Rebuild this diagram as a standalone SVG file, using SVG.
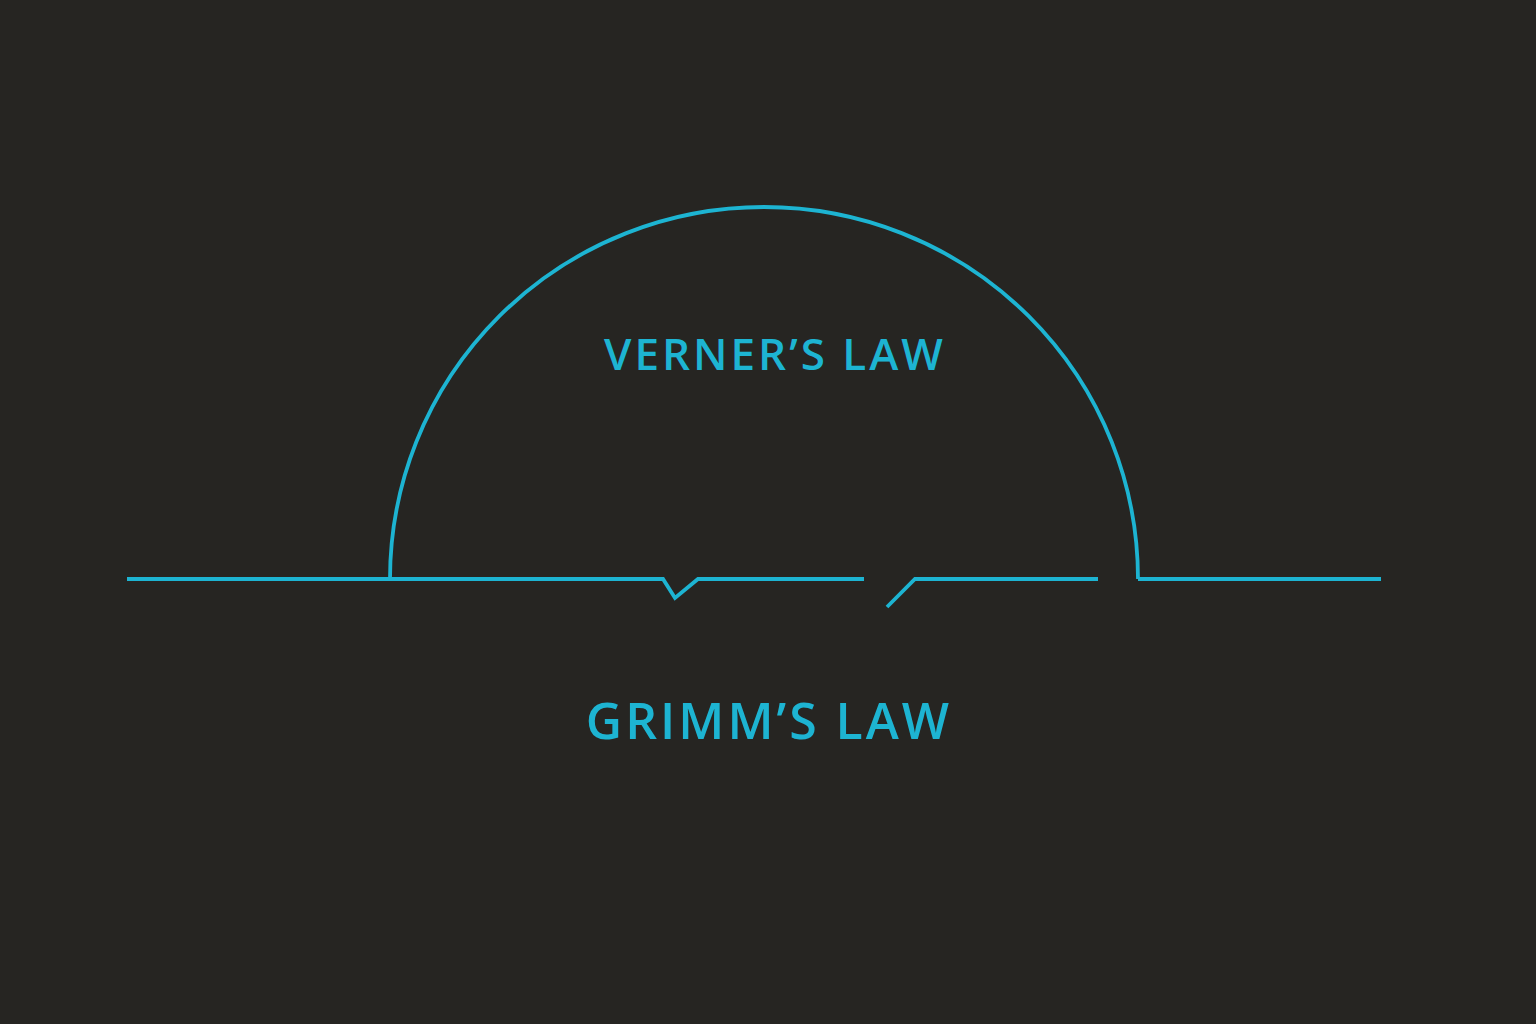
<svg xmlns="http://www.w3.org/2000/svg" width="1536" height="1024" viewBox="0 0 1536 1024">
<style>
.ln{fill:none;stroke:#1db4d2;stroke-width:3.8;stroke-linejoin:miter}
.lbl{font-family:"Open Sans","Liberation Sans",sans-serif;font-weight:600;fill:#1db4d2;text-anchor:middle}
</style>
<rect width="1536" height="1024" fill="#262522"/>
<g id="connectors">
<path class="ln" d="M127,579 L663,579 L675,598 L698,579 L864,579"/>
<path class="ln" d="M887,607 L915,579 L1098,579"/>
<path class="ln" d="M1138,579 L1381,579"/>
</g>
<g id="verner">
<path class="ln" d="M390,579 A374,372 0 0 1 1138,579"/>
<text class="lbl" x="775" y="370" font-size="44" letter-spacing="3">VERNER’S LAW</text>
</g>
<g id="grimm">
<text class="lbl" x="769" y="739" font-size="50" letter-spacing="3">GRIMM’S LAW</text>
</g>
</svg>
